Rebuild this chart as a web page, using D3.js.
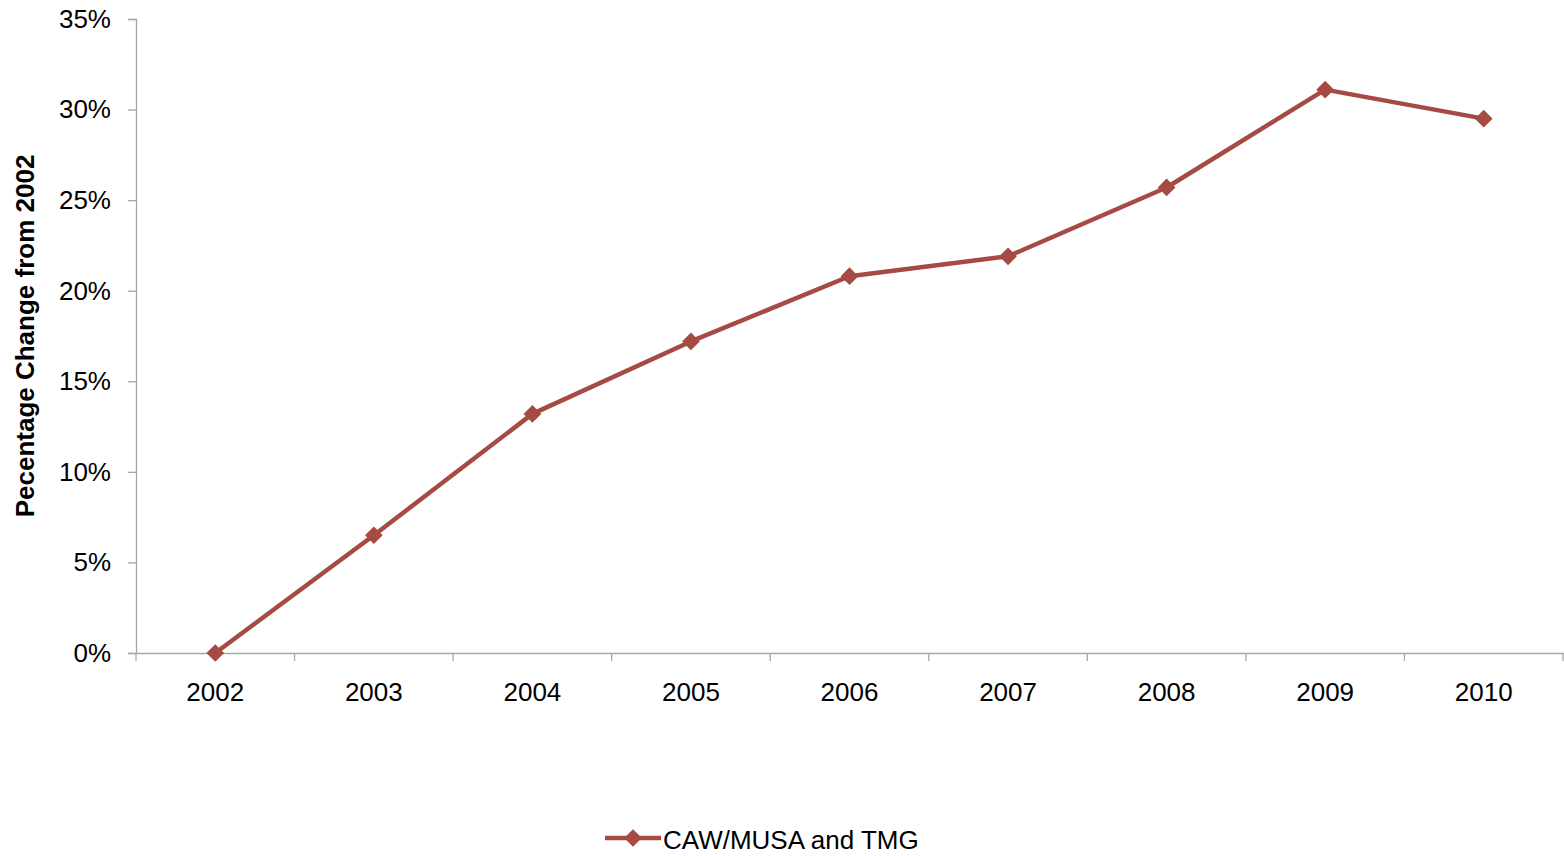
<!DOCTYPE html>
<html lang="en">
<head>
<meta charset="utf-8">
<title>Percentage Change from 2002</title>
<script src="https://d3js.org/d3.v7.min.js"></script>
<style type="text/css">
  body { margin: 0; background: #fff; }
  text { font-family: "Liberation Sans", Arial, sans-serif; fill: #000; }
</style>
</head>
<body>
<svg id="chart" width="1564" height="856"></svg>
<script type="text/javascript">
  // data
  var years = ["2002", "2003", "2004", "2005", "2006", "2007", "2008", "2009", "2010"];
  var values = [0.0, 0.065, 0.132, 0.172, 0.208, 0.219, 0.257, 0.311, 0.295];
  var yTicks = [0, 0.05, 0.10, 0.15, 0.20, 0.25, 0.30, 0.35];
  var seriesName = "CAW/MUSA and TMG";
  var yTitle = "Pecentage Change from 2002";

  var color = "#A64A44";
  var axisColor = "#A6A6A6";

  var svg = d3.select("#chart");
  var padLeft = 136, padRight = 1563, padTop = 19, padBottom = 653;

  var x = d3.scaleBand().domain(years).range([padLeft, padRight]);
  var y = d3.scaleLinear().domain([0, 0.35]).range([padBottom, padTop]);

  //Y axis
  var yAxis = svg.append("g")
      .attr("transform", "translate(" + padLeft + ",0)")
      .call(d3.axisLeft(y).tickValues(yTicks).tickFormat(d3.format(".0%")).tickSize(8).tickPadding(17));
  yAxis.select(".domain").attr("stroke", axisColor).attr("stroke-width", 1.3);
  yAxis.selectAll(".tick line").attr("stroke", axisColor).attr("stroke-width", 1.3);
  yAxis.selectAll("text").attr("font-size", "26px").attr("font-family", "Liberation Sans, Arial, sans-serif");

  //X axis: ticks between categories
  var xAxis = svg.append("g")
      .attr("transform", "translate(0," + padBottom + ")")
      .call(d3.axisBottom(x).tickSize(0).tickPadding(30));
  xAxis.select(".domain").attr("stroke", axisColor).attr("stroke-width", 1.3);
  xAxis.selectAll("text").attr("font-size", "26px").attr("font-family", "Liberation Sans, Arial, sans-serif");
  var bounds = years.map(function(d) { return x(d); }).concat([x.range()[1]]);
  xAxis.selectAll(".sep")
      .data(bounds)
      .enter().append("line")
      .attr("class", "sep")
      .attr("x1", function(d) { return d; })
      .attr("x2", function(d) { return d; })
      .attr("y1", 0).attr("y2", 8)
      .attr("stroke", axisColor).attr("stroke-width", 1.3);

  //Y title
  svg.append("text")
      .attr("transform", "translate(34," + ((padTop + padBottom) / 2) + ") rotate(-90)")
      .attr("text-anchor", "middle")
      .attr("font-size", "26px")
      .attr("font-weight", "bold")
      .text(yTitle);

  var cx = function(d, i) { return x(years[i]) + x.bandwidth() / 2; };
  var diamond = d3.symbol().type(d3.symbolDiamond2).size(200);

  //Line
  svg.append("path")
      .datum(values)
      .attr("fill", "none")
      .attr("stroke", color)
      .attr("stroke-width", 4.5)
      .attr("stroke-linejoin", "round")
      .attr("d", d3.line().x(cx).y(function(d) { return y(d); }));

  //Markers
  svg.selectAll(".marker")
      .data(values)
      .enter().append("path")
      .attr("class", "marker")
      .attr("d", diamond)
      .attr("fill", color)
      .attr("transform", function(d, i) { return "translate(" + cx(d, i) + "," + y(d) + ")"; });

  //Legend
  var lg = svg.append("g").attr("transform", "translate(605,838)");
  lg.append("line").attr("x1", 0).attr("x2", 56).attr("y1", 0).attr("y2", 0)
      .attr("stroke", color).attr("stroke-width", 4.5);
  lg.append("path").attr("d", diamond).attr("fill", color).attr("transform", "translate(28,0)");
  lg.append("text").attr("x", 58).attr("y", 11).attr("font-size", "26px").text(seriesName);
</script>
</body>
</html>
